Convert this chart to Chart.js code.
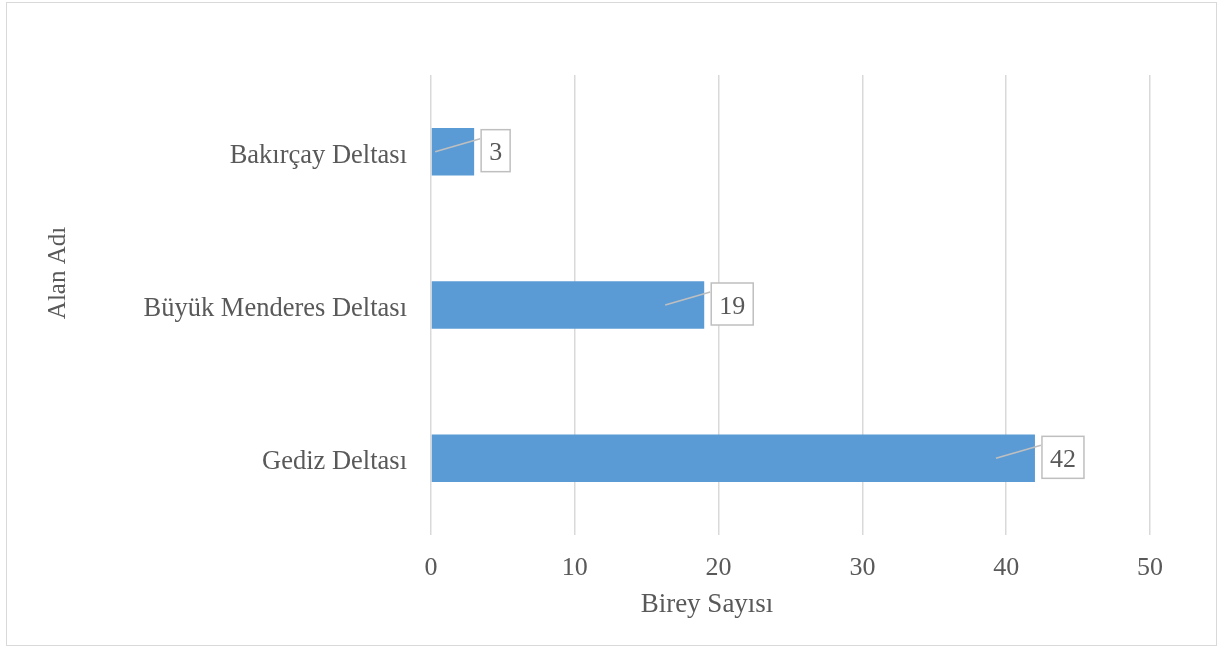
<!DOCTYPE html>
<html>
<head>
<meta charset="utf-8">
<script src="https://cdn.jsdelivr.net/npm/chart.js@4"></script>
<style>
  html, body { margin: 0; padding: 0; background: #fff; }
  #wrap { position: relative; width: 1217px; height: 646px; }
  #frame {
    position: absolute; left: 6px; top: 2px; width: 1209px; height: 642px;
    border: 1.5px solid #d9d9d9; pointer-events: none;
  }
</style>
</head>
<body>
<div id="wrap">
  <canvas id="chart" width="1217" height="646"></canvas>
  <div id="frame"></div>
</div>
<script>
const categories = ["Bakırçay Deltası", "Büyük Menderes Deltası", "Gediz Deltası"];
const counts = [3, 19, 42];
const xTicks = [0, 10, 20, 30, 40, 50];
const xTitle = "Birey Sayısı";
const yTitle = "Alan Adı";

const TEXT = "#595959";
const FONT = "'Liberation Serif', 'Times New Roman', serif";

// boxed data labels with a short leader line back into the bar,
// plus axis titles centred the way the spreadsheet does it
const calloutLabels = {
  id: "calloutLabels",
  afterDatasetsDraw(chart) {
    const ctx = chart.ctx;
    const meta = chart.getDatasetMeta(0);
    ctx.save();
    ctx.font = "26px " + FONT;
    ctx.textBaseline = "middle";
    ctx.textAlign = "center";
    meta.data.forEach((bar, i) => {
      const txt = String(counts[i]);
      const w = ctx.measureText(txt).width + 16;
      const h = 42;
      const bx = bar.x + 7;
      const by = bar.y - 22;
      ctx.strokeStyle = "#bfbfbf";
      ctx.lineWidth = 1.5;
      ctx.beginPath();
      ctx.moveTo(bar.x - 39, bar.y);
      ctx.lineTo(bx - 1, by + 9);
      ctx.stroke();
      ctx.fillStyle = "#fff";
      ctx.fillRect(bx, by, w, h);
      ctx.strokeRect(bx, by, w, h);
      ctx.fillStyle = TEXT;
      ctx.fillText(txt, bx + w / 2, bar.y + 2);
    });

    ctx.font = "27px " + FONT;
    ctx.fillText(xTitle, 707, 605);
    ctx.font = "25px " + FONT;
    ctx.translate(58, 273);
    ctx.rotate(-Math.PI / 2);
    ctx.fillText(yTitle, 0, 0);
    ctx.restore();
  }
};

new Chart(document.getElementById("chart"), {
  type: "bar",
  data: {
    labels: categories,
    datasets: [{
      data: counts,
      backgroundColor: "#5b9bd5",
      barPercentage: 0.62,
      categoryPercentage: 0.5,
    }],
  },
  options: {
    indexAxis: "y",
    responsive: false,
    animation: false,
    layout: { padding: { left: 7, right: 67, top: 75, bottom: 0 } },
    plugins: { legend: { display: false }, tooltip: { enabled: false } },
    scales: {
      x: {
        min: 0,
        max: 50,
        afterBuildTicks: (s) => { s.ticks = xTicks.map((v) => ({ value: v })); },
        grid: { color: "#d9d9d9", lineWidth: 1.5, drawTicks: false },
        border: { display: false },
        ticks: { color: TEXT, font: { family: FONT, size: 26 }, padding: 18 },
        afterFit: (s) => { s.height = 111; },
      },
      y: {
        grid: { display: false },
        border: { display: false },
        ticks: { color: TEXT, font: { family: FONT, size: 26.5 }, padding: 16, labelOffset: 4 },
        afterFit: (s) => { s.width = 424; },
      },
    },
  },
  plugins: [calloutLabels],
});
</script>
</body>
</html>
